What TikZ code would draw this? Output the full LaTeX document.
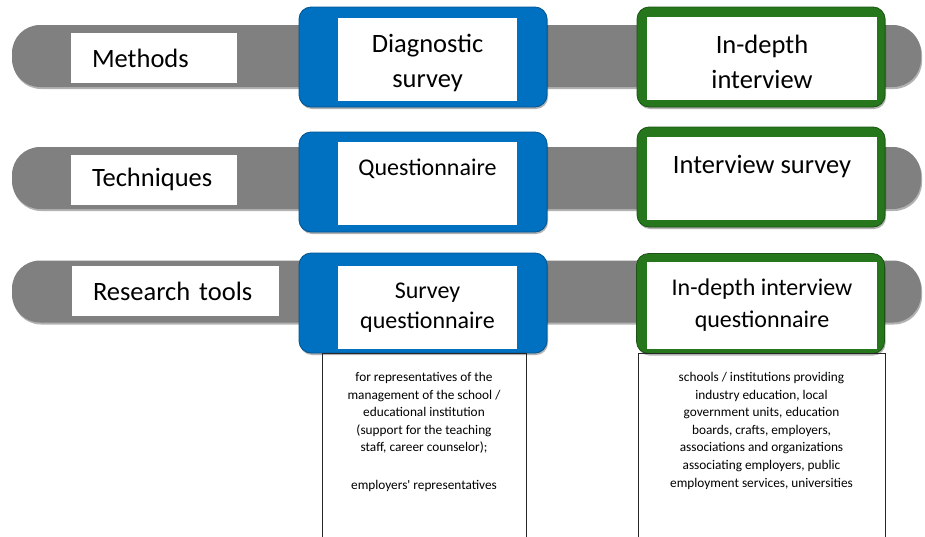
\documentclass[tikz,border=0pt]{standalone}
\usepackage{fontspec}
\setmainfont{Carlito}
\usetikzlibrary{
  positioning,
  shadows}
\definecolor{methodBlue}{RGB}{0,112,192}
\definecolor{methodGreen}{RGB}{38,118,28}
\definecolor{barGray}{RGB}{128,128,128}
\newcommand{\bigtext}{\fontsize{24}{30}\selectfont}
\newcommand{\largetext}{\fontsize{26.5}{35}\selectfont}
\newcommand{\smalltext}{\fontsize{13.3}{17.6}\selectfont}
\tikzset{
  softshadow/.style={%
    drop shadow={shadow xshift=1pt, shadow yshift=-2pt,
      opacity=0.3, fill=black}
  },
  bar/.style={%
    fill=barGray, rounded corners=28pt, softshadow,
    minimum width=909pt, minimum height=62pt, inner sep=0pt
  },
  labelbox/.style={%
    fill=white, minimum height=50pt, inner xsep=21pt,
    align=left, font=\largetext
  },
  bluebox/.style={%
    fill=methodBlue, draw=methodBlue!75!black, line width=0.8pt,
    rounded corners=12pt, softshadow,
    minimum width=248pt, minimum height=100pt
  },
  greenbox/.style={%
    fill=methodGreen, draw=methodGreen!70!black, line width=0.8pt,
    rounded corners=12pt, softshadow,
    minimum width=248pt, minimum height=100pt
  },
  innerbox/.style={%
    fill=white, inner sep=0pt, align=center, font=\bigtext,
    minimum height=83pt
  },
  notebox/.style={%
    draw=black!85, line width=0.6pt, anchor=north, minimum height=190pt
  },
  notetext/.style={%
    inner sep=0pt, align=center, font=\smalltext
  }
}

\begin{document}
\begin{tikzpicture}[x=1pt,y=-1pt]
\useasboundingbox (0,0) rectangle (925,536);

% Gray bars, one per row, behind everything else.
\node[bar] (barMethods) at (466.5,56) {};
\node[bar] (barTechniques) at (466.5,178) {};
\node[bar] (barTools) at (466.5,291.5) {};

% Row titles on the left.
\node[labelbox, text width=124pt] (Methods) at (154,58) {Methods};
\node[labelbox, text width=124pt] (Techniques) at (154,179.5) {Techniques};
\node[labelbox, text width=165pt] (Tools) at (175.5,291) {Research tools};

% Blue column.
\node[bluebox] (surveyOuter) at (423,57) {};
\node[innerbox, minimum width=179pt, font=\largetext] (Survey)
  at (427.5,59.5) {\rule{0pt}{25pt}Diagnostic\\survey};
\node[bluebox] (questOuter) at (423,182) {};
\node[innerbox, minimum width=179pt, font=\fontsize{24}{32}\selectfont]
  (Quest) at (427.5,183.5) {Questionnaire\\\mbox{}};
\node[bluebox] (toolOuter) at (423,303) {};
\node[innerbox, minimum width=179pt] (SurveyQuest) at (427.5,307.5)
  {Survey\\questionnaire};

% Green column.
\node[greenbox] (interviewOuter) at (761,57) {};
\node[innerbox, minimum width=230pt, font=\largetext] (Interview)
  at (762,58.5) {\rule{0pt}{25pt}In-depth\\interview};
\node[greenbox] (intSurveyOuter) at (761,177) {};
\node[innerbox, minimum width=230pt, font=\fontsize{26.5}{28}\selectfont]
  (IntSurvey) at (762,178.5) {Interview survey\\\mbox{}};
\node[greenbox] (intQuestOuter) at (760.5,303.5) {};
\node[innerbox, minimum width=230pt, minimum height=87pt,
  font=\fontsize{24}{32}\selectfont] (IntQuest) at (762,305.5)
  {In-depth interview\\questionnaire};

% Respondent notes under the third row; they run off the bottom edge.
\node[notebox, minimum width=204pt] (noteSurvey) at (424,353) {};
\node[notetext, below=19pt of noteSurvey.north] (noteSurveyText)
  {for representatives of the\\
   management of the school /\\
   educational institution\\
   (support for the teaching\\
   staff, career counselor);\\[20.4pt]
   employers\textquotesingle{} representatives};
\node[notebox, minimum width=247pt] (noteInterview) at (761.5,353) {};
\node[notetext, below=19pt of noteInterview.north] (noteInterviewText)
  {schools / institutions providing\\
   industry education, local\\
   government units, education\\
   boards, crafts, employers,\\
   associations and organizations\\
   associating employers, public\\
   employment services, universities};

\end{tikzpicture}
\end{document}
